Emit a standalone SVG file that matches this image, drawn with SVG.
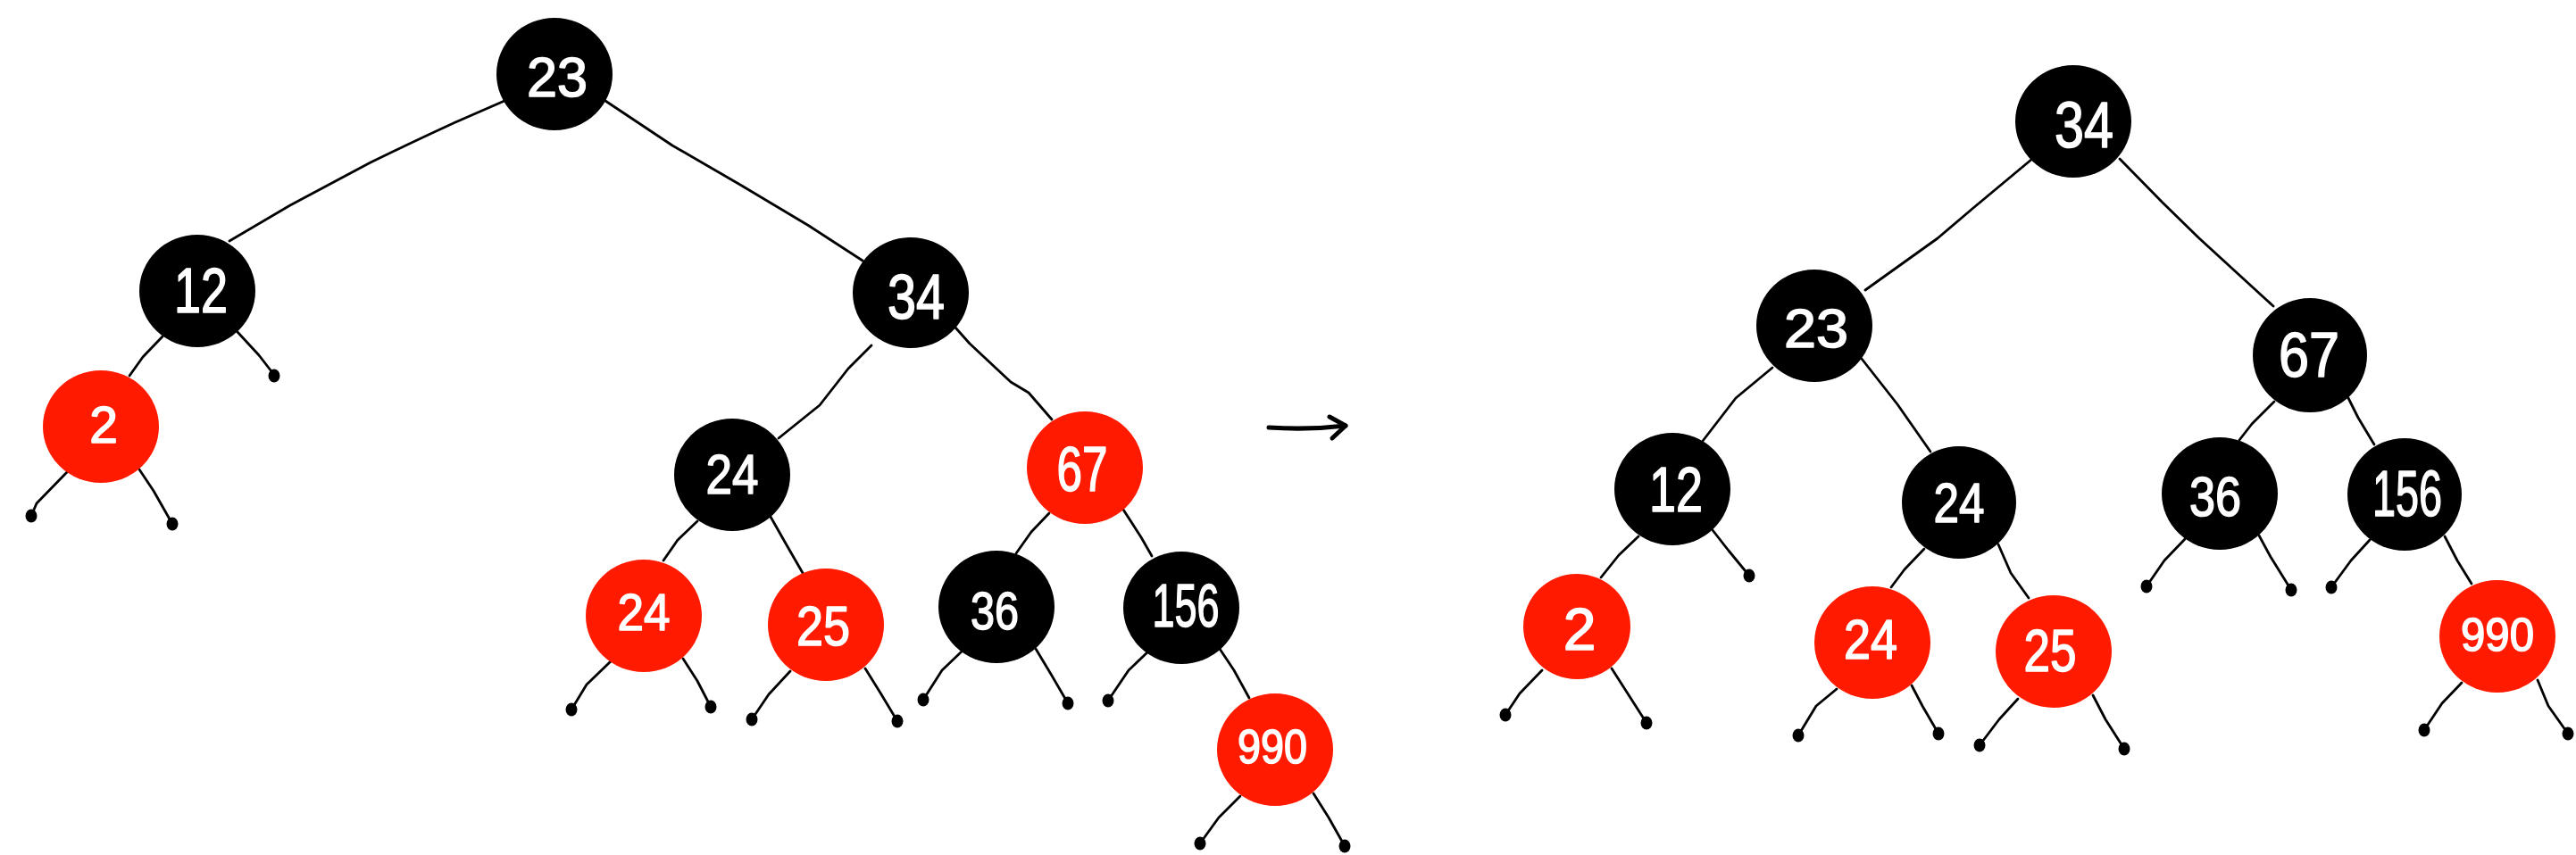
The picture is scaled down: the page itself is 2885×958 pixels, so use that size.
<svg xmlns="http://www.w3.org/2000/svg" width="2885" height="958" viewBox="0 0 2885 958">
<style>
.b{fill:#000}
.r{fill:#ff1a00}
.t{fill:#fff;stroke:#fff;stroke-width:1.6;stroke-linejoin:round;font-family:"Liberation Sans",Arial,sans-serif;text-anchor:middle}
.e{fill:none;stroke:#000;stroke-width:2.8;stroke-linecap:round;stroke-linejoin:round}
.d{fill:#000}
.ar{fill:none;stroke:#000;stroke-width:5;stroke-linecap:round;stroke-linejoin:round}
</style>
<rect width="2885" height="958" fill="#fff"/>
<g id="connectors">
<!-- left tree -->
<path class="e" d="M565,113 L510,137 Q460,160 415,182 L325,230 L257,270"/>
<path class="e" d="M678,113 L753,163 L829,207 L906,253 L966,292"/>
<path class="e" d="M182,377 L160,400 L145,421"/>
<path class="e" d="M266,372 L290,398 L307,420"/>
<path class="e" d="M976,387 L950,413 L918,454 L872,491"/>
<path class="e" d="M1070,367 L1086,385 L1132,428 L1152,440 L1178,470"/>
<path class="e" d="M781,584 L759,605 L743,628"/>
<path class="e" d="M863,579 L880,609 L899,642"/>
<path class="e" d="M75,529 L41,564 L35,578"/>
<path class="e" d="M156,526 L172,550 L193,587"/>
<path class="e" d="M684,741 L657,767 L640,795"/>
<path class="e" d="M765,738 L781,763 L796,792"/>
<path class="e" d="M885,752 L861,778 L842,806"/>
<path class="e" d="M969,749 L987,778 L1005,808"/>
<path class="e" d="M1175,575 L1155,596 L1138,620"/>
<path class="e" d="M1258,571 L1278,602 L1290,623"/>
<path class="e" d="M1077,730 L1055,751 L1034,784"/>
<path class="e" d="M1160,727 L1178,757 L1196,788"/>
<path class="e" d="M1286,730 L1264,751 L1241,785"/>
<path class="e" d="M1366,727 L1382,751 L1399,782"/>
<path class="e" d="M1389,892 L1365,916 L1344,945"/>
<path class="e" d="M1471,889 L1488,916 L1506,948"/>
<!-- right tree -->
<path class="e" d="M2276,178 L2210,233 L2170,267 L2089,325"/>
<path class="e" d="M2374,178 L2422,227 L2463,267 L2546,343"/>
<path class="e" d="M1985,412 L1944,446 L1907,494"/>
<path class="e" d="M2085,402 L2125,453 L2162,506"/>
<path class="e" d="M2547,450 L2522,475 L2508,493"/>
<path class="e" d="M2629,444 L2641,468 L2659,498"/>
<path class="e" d="M1835,601 L1813,622 L1793,647"/>
<path class="e" d="M1918,594 L1936,617 L1959,645"/>
<path class="e" d="M2155,615 L2133,638 L2118,658"/>
<path class="e" d="M2238,610 L2252,642 L2272,670"/>
<path class="e" d="M1727,751 L1702,777 L1686,801"/>
<path class="e" d="M1805,749 L1821,774 L1844,810"/>
<path class="e" d="M2057,772 L2034,791 L2014,824"/>
<path class="e" d="M2141,768 L2153,791 L2171,822"/>
<path class="e" d="M2260,783 L2239,806 L2217,835"/>
<path class="e" d="M2344,779 L2358,806 L2379,839"/>
<path class="e" d="M2447,604 L2424,628 L2404,657"/>
<path class="e" d="M2530,600 L2543,624 L2566,661"/>
<path class="e" d="M2654,605 L2633,628 L2611,658"/>
<path class="e" d="M2738,601 L2752,628 L2768,654"/>
<path class="e" d="M2757,765 L2735,788 L2715,818"/>
<path class="e" d="M2842,762 L2854,791 L2876,822"/>
<!-- leaf dots -->
<ellipse class="d" cx="307" cy="421" rx="6.5" ry="7.5"/>
<ellipse class="d" cx="35" cy="578" rx="6.5" ry="7.5"/>
<ellipse class="d" cx="193" cy="587" rx="6.5" ry="7.5"/>
<ellipse class="d" cx="640" cy="795" rx="6.5" ry="7.5"/>
<ellipse class="d" cx="796" cy="792" rx="6.5" ry="7.5"/>
<ellipse class="d" cx="842" cy="806" rx="6.5" ry="7.5"/>
<ellipse class="d" cx="1005" cy="808" rx="6.5" ry="7.5"/>
<ellipse class="d" cx="1034" cy="784" rx="6.5" ry="7.5"/>
<ellipse class="d" cx="1196" cy="788" rx="6.5" ry="7.5"/>
<ellipse class="d" cx="1241" cy="785" rx="6.5" ry="7.5"/>
<ellipse class="d" cx="1344" cy="945" rx="6.5" ry="7.5"/>
<ellipse class="d" cx="1506" cy="948" rx="6.5" ry="7.5"/>
<ellipse class="d" cx="1959" cy="645" rx="6.5" ry="7.5"/>
<ellipse class="d" cx="1686" cy="801" rx="6.5" ry="7.5"/>
<ellipse class="d" cx="1844" cy="810" rx="6.5" ry="7.5"/>
<ellipse class="d" cx="2014" cy="824" rx="6.5" ry="7.5"/>
<ellipse class="d" cx="2171" cy="822" rx="6.5" ry="7.5"/>
<ellipse class="d" cx="2217" cy="835" rx="6.5" ry="7.5"/>
<ellipse class="d" cx="2379" cy="839" rx="6.5" ry="7.5"/>
<ellipse class="d" cx="2404" cy="657" rx="6.5" ry="7.5"/>
<ellipse class="d" cx="2566" cy="661" rx="6.5" ry="7.5"/>
<ellipse class="d" cx="2611" cy="658" rx="6.5" ry="7.5"/>
<ellipse class="d" cx="2715" cy="818" rx="6.5" ry="7.5"/>
<ellipse class="d" cx="2876" cy="822" rx="6.5" ry="7.5"/>
<!-- transformation arrow -->
<path class="ar" d="M1421,479 Q1465,482 1507,477"/>
<path class="ar" d="M1489,467 L1507,477 L1492,491"/>
</g>
<!-- left tree nodes -->
<g id="L23"><ellipse class="b" cx="621" cy="83" rx="65" ry="63"/><text class="t" x="624" y="108" font-size="63" textLength="68" lengthAdjust="spacingAndGlyphs">23</text></g>
<g id="L12"><ellipse class="b" cx="221" cy="326" rx="65" ry="63"/><text class="t" x="225" y="350" font-size="70" textLength="60" lengthAdjust="spacingAndGlyphs">12</text></g>
<g id="L2"><ellipse class="r" cx="113" cy="478" rx="65" ry="63"/><text class="t" x="116" y="496" font-size="57">2</text></g>
<g id="L34"><ellipse class="b" cx="1020" cy="328" rx="65" ry="62"/><text class="t" x="1026" y="357" font-size="70" textLength="64" lengthAdjust="spacingAndGlyphs">34</text></g>
<g id="L24"><ellipse class="b" cx="820" cy="532" rx="65" ry="63"/><text class="t" x="820" y="553" font-size="63" textLength="59" lengthAdjust="spacingAndGlyphs">24</text></g>
<g id="L67"><ellipse class="r" cx="1215" cy="524" rx="65" ry="63"/><text class="t" x="1212" y="550" font-size="70" textLength="57" lengthAdjust="spacingAndGlyphs">67</text></g>
<g id="L24r"><ellipse class="r" cx="721" cy="690" rx="65" ry="63"/><text class="t" x="721" y="706" font-size="58" textLength="59" lengthAdjust="spacingAndGlyphs">24</text></g>
<g id="L25"><ellipse class="r" cx="925" cy="700" rx="65" ry="63"/><text class="t" x="922" y="723" font-size="63" textLength="60" lengthAdjust="spacingAndGlyphs">25</text></g>
<g id="L36"><ellipse class="b" cx="1116" cy="680" rx="65" ry="63"/><text class="t" x="1114" y="705" font-size="60" textLength="54" lengthAdjust="spacingAndGlyphs">36</text></g>
<g id="L156"><ellipse class="b" cx="1323" cy="681" rx="65" ry="63"/><text class="t" x="1328" y="702" font-size="68" textLength="75" lengthAdjust="spacingAndGlyphs">156</text></g>
<g id="L990"><ellipse class="r" cx="1428" cy="840" rx="65" ry="63"/><text class="t" x="1425" y="855" font-size="53" textLength="78" lengthAdjust="spacingAndGlyphs">990</text></g>
<!-- right tree nodes -->
<g id="R34"><ellipse class="b" cx="2322" cy="136" rx="65" ry="63"/><text class="t" x="2334" y="165" font-size="72" textLength="66" lengthAdjust="spacingAndGlyphs">34</text></g>
<g id="R23"><ellipse class="b" cx="2032" cy="365" rx="65" ry="63"/><text class="t" x="2034" y="389" font-size="62" textLength="72" lengthAdjust="spacingAndGlyphs">23</text></g>
<g id="R67"><ellipse class="b" cx="2587" cy="398" rx="64" ry="64"/><text class="t" x="2586" y="422" font-size="70" textLength="68" lengthAdjust="spacingAndGlyphs">67</text></g>
<g id="R12"><ellipse class="b" cx="1873" cy="548" rx="65" ry="63"/><text class="t" x="1877" y="573" font-size="70" textLength="60" lengthAdjust="spacingAndGlyphs">12</text></g>
<g id="R24"><ellipse class="b" cx="2194" cy="563" rx="64" ry="63"/><text class="t" x="2194" y="585" font-size="63" textLength="57" lengthAdjust="spacingAndGlyphs">24</text></g>
<g id="R36"><ellipse class="b" cx="2486" cy="553" rx="65" ry="63"/><text class="t" x="2481" y="578" font-size="63" textLength="58" lengthAdjust="spacingAndGlyphs">36</text></g>
<g id="R156"><ellipse class="b" cx="2693" cy="554" rx="64" ry="63"/><text class="t" x="2696" y="578" font-size="72" textLength="78" lengthAdjust="spacingAndGlyphs">156</text></g>
<g id="R2"><ellipse class="r" cx="1766" cy="702" rx="60" ry="59"/><text class="t" x="1769" y="728" font-size="66">2</text></g>
<g id="R24r"><ellipse class="r" cx="2097" cy="720" rx="65" ry="63"/><text class="t" x="2095" y="738" font-size="63" textLength="60" lengthAdjust="spacingAndGlyphs">24</text></g>
<g id="R25"><ellipse class="r" cx="2300" cy="730" rx="65" ry="63"/><text class="t" x="2296" y="752" font-size="66" textLength="59" lengthAdjust="spacingAndGlyphs">25</text></g>
<g id="R990"><ellipse class="r" cx="2797" cy="713" rx="65" ry="63"/><text class="t" x="2797" y="729" font-size="52" textLength="82" lengthAdjust="spacingAndGlyphs">990</text></g>
</svg>
